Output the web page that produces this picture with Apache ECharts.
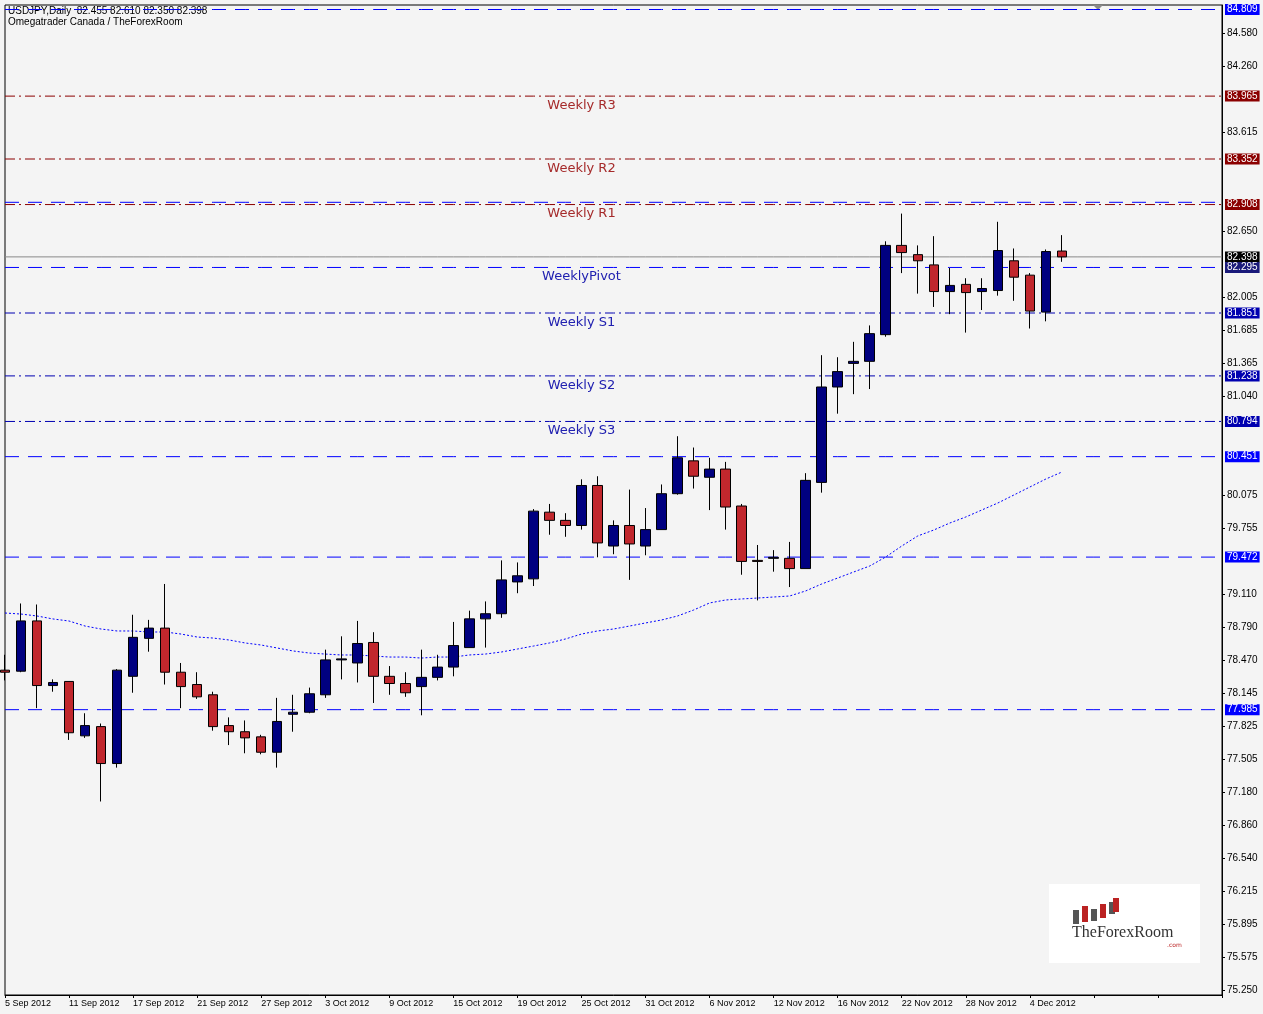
<!DOCTYPE html>
<html><head><meta charset="utf-8">
<script src="https://cdn.jsdelivr.net/npm/echarts@6/dist/echarts.min.js"></script>
<style>html,body{margin:0;padding:0;background:#fff}#c{width:1263px;height:1014px}</style>
</head><body><div id="c"></div>
<script>
const dates = ['5 Sep 2012','6 Sep 2012','7 Sep 2012','10 Sep 2012','11 Sep 2012','12 Sep 2012','13 Sep 2012','14 Sep 2012','17 Sep 2012','18 Sep 2012','19 Sep 2012','20 Sep 2012','21 Sep 2012','24 Sep 2012','25 Sep 2012','26 Sep 2012','27 Sep 2012','28 Sep 2012','1 Oct 2012','2 Oct 2012','3 Oct 2012','4 Oct 2012','5 Oct 2012','8 Oct 2012','9 Oct 2012','10 Oct 2012','11 Oct 2012','12 Oct 2012','15 Oct 2012','16 Oct 2012','17 Oct 2012','18 Oct 2012','19 Oct 2012','22 Oct 2012','23 Oct 2012','24 Oct 2012','25 Oct 2012','26 Oct 2012','29 Oct 2012','30 Oct 2012','31 Oct 2012','1 Nov 2012','2 Nov 2012','5 Nov 2012','6 Nov 2012','7 Nov 2012','8 Nov 2012','9 Nov 2012','12 Nov 2012','13 Nov 2012','14 Nov 2012','15 Nov 2012','16 Nov 2012','19 Nov 2012','20 Nov 2012','21 Nov 2012','22 Nov 2012','23 Nov 2012','26 Nov 2012','27 Nov 2012','28 Nov 2012','29 Nov 2012','30 Nov 2012','3 Dec 2012','4 Dec 2012','5 Dec 2012','6 Dec 2012'];
const padCount = 10;
// [open, close, low, high]
const ohlc = [
[78.37,78.35,78.27,78.52],[78.36,78.85,78.35,79.02],[78.85,78.22,78.00,79.01],[78.22,78.25,78.16,78.28],
[78.26,77.76,77.69,78.26],[77.73,77.83,77.71,77.95],[77.82,77.46,77.09,77.85],[77.46,78.37,77.42,78.38],
[78.31,78.69,78.15,78.91],[78.68,78.78,78.55,78.86],[78.78,78.35,78.23,79.21],[78.35,78.21,78.00,78.44],
[78.23,78.11,78.09,78.35],[78.13,77.82,77.78,78.16],[77.83,77.77,77.64,77.91],[77.77,77.71,77.56,77.88],
[77.72,77.57,77.55,77.74],[77.57,77.87,77.42,78.10],[77.94,77.96,77.77,78.13],[77.96,78.14,77.95,78.20],
[78.13,78.47,78.10,78.57],[78.47,78.48,78.28,78.70],[78.44,78.63,78.25,78.85],[78.64,78.31,78.05,78.74],
[78.31,78.24,78.13,78.41],[78.24,78.15,78.11,78.35],[78.21,78.30,77.93,78.57],[78.30,78.40,78.27,78.52],
[78.40,78.61,78.31,78.84],[78.59,78.87,78.59,78.95],[78.87,78.92,78.59,79.04],[78.92,79.25,78.88,79.44],
[79.23,79.29,79.12,79.42],[79.26,79.92,79.19,79.94],[79.91,79.83,79.69,79.99],[79.83,79.78,79.67,79.90],
[79.78,80.17,79.74,80.23],[80.17,79.61,79.47,80.26],[79.58,79.78,79.50,79.83],[79.78,79.60,79.25,80.13],
[79.58,79.74,79.49,79.95],[79.74,80.09,79.74,80.18],[80.09,80.44,80.08,80.65],[80.41,80.26,80.14,80.54],
[80.25,80.33,79.93,80.44],[80.33,79.96,79.74,80.40],[79.97,79.43,79.30,79.99],[79.44,79.43,79.05,79.59],
[79.46,79.47,79.33,79.54],[79.46,79.36,79.18,79.62],[79.36,80.22,79.36,80.29],[80.20,81.13,80.10,81.44],
[81.13,81.28,80.87,81.42],[81.36,81.38,81.06,81.57],[81.38,81.65,81.11,81.73],[81.64,82.51,81.62,82.55],
[82.51,82.44,82.24,82.82],[82.42,82.36,82.04,82.51],[82.32,82.06,81.91,82.60],[82.06,82.12,81.84,82.29],
[82.13,82.05,81.66,82.19],[82.06,82.09,81.88,82.19],[82.07,82.46,82.02,82.74],[82.36,82.20,81.97,82.48],
[82.22,81.87,81.70,82.24],[81.86,82.45,81.77,82.47],[82.455,82.398,82.35,82.61]];
const maValues = [78.927,78.917,78.898,78.869,78.849,78.800,78.771,78.752,78.752,78.742,78.742,78.722,78.693,78.683,78.664,78.635,78.615,78.586,78.557,78.537,78.527,78.518,78.518,78.508,78.498,78.498,78.488,78.498,78.498,78.518,78.527,78.547,78.576,78.605,78.635,78.674,78.722,78.752,78.771,78.800,78.830,78.859,78.898,78.956,79.025,79.054,79.064,79.073,79.083,79.093,79.142,79.210,79.268,79.327,79.385,79.473,79.580,79.678,79.736,79.804,79.863,79.931,79.999,80.077,80.155,80.233,80.301];
const tickValues = [84.580,84.260,83.615,82.650,82.005,81.685,81.365,81.040,80.075,79.755,79.110,78.790,78.470,78.145,77.825,77.505,77.180,76.860,76.540,76.215,75.895,75.575,75.250];
// [value, name, kind]
const levels = [
 [84.809,'', 'blueDash'],
 [83.965,'Weekly R3','red'],
 [83.352,'Weekly R2','red'],
 [82.930,'', 'blueDashNoBox'],
 [82.908,'Weekly R1','red'],
 [82.398,'', 'last'],
 [82.295,'WeeklyPivot','pivot'],
 [81.851,'Weekly S1','sup'],
 [81.238,'Weekly S2','sup'],
 [80.794,'Weekly S3','sup'],
 [80.451,'', 'blueDash'],
 [79.472,'', 'blueDash'],
 [77.985,'', 'blueDash']
];
const labelIndex = 36;

const cats = dates.concat(new Array(padCount).fill(''));
const styles = {
 blueDash:{color:'#0000ff',type:[14,9],box:'#0000ff'},
 blueDashNoBox:{color:'#0000ff',type:[14,9],box:null},
 red:{color:'#8b0000',type:[10,4,2,4],box:'#8b0000',text:'#a52a2a'},
 last:{color:'#888888',type:'solid',box:'#000000'},
 pivot:{color:'#0000ff',type:[14,9],box:'#1a1a7a',text:'#2020b0'},
 sup:{color:'#0000b0',type:[10,4,2,4],box:'#0000b0',text:'#2020b0'}
};
const levelSeries = levels.map(([v,name,kind])=>{
  const s = styles[kind];
  return {type:'line',data:cats.map(()=>v),symbol:'none',silent:true,clip:false,z:kind==='blueDashNoBox'?1:2,
    lineStyle:{color:s.color,type:s.type,width:1},
    endLabel:{show:!!s.box,formatter:v.toFixed(3),color:'#fff',backgroundColor:s.box||'transparent',padding:[1,2,0,2],fontSize:10,fontFamily:'Liberation Sans',distance:3}};
});
const nameData = levels.filter(l=>l[1]).map(([v,name,kind])=>({
  value:[labelIndex, v],
  label:{show:true,position:'bottom',distance:3,formatter:name,color:styles[kind].text,opacity:1,fontSize:13,fontFamily:'DejaVu Sans'}
}));

const chart = echarts.init(document.getElementById('c'));
chart.setOption({
  animation:false,
  backgroundColor:'#f4f4f4',
  grid:{left:5,right:41,top:5,bottom:19,show:true,borderColor:'#000',borderWidth:1,backgroundColor:'#f4f4f4'},
  xAxis:{type:'category',data:cats,boundaryGap:false,
    axisLine:{show:true,lineStyle:{color:'#000'}},
    axisTick:{show:true,interval:3,length:3,lineStyle:{color:'#000'}},
    axisLabel:{interval:3,align:'left',margin:4,fontSize:9,fontFamily:'Liberation Sans',color:'#000'},
    splitLine:{show:false}},
  yAxis:{type:'value',position:'right',min:75.204,max:84.853,scale:true,
    axisLine:{show:true,lineStyle:{color:'#000'}},
    axisTick:{show:true,length:3,customValues:tickValues,lineStyle:{color:'#000'}},
    axisLabel:{customValues:tickValues,formatter:v=>v.toFixed(3),fontSize:10,fontFamily:'Liberation Sans',color:'#000',margin:5},
    splitLine:{show:false}},
  series:levelSeries.concat([
    {type:'scatter',data:nameData,symbolSize:0,silent:true,z:5,itemStyle:{opacity:1}},
    {type:'line',data:maValues,symbol:'none',z:3,lineStyle:{color:'#0000ff',width:1,type:[2,2]}},
    {type:'candlestick',data:ohlc,barWidth:10,clip:true,z:4,
      itemStyle:{color:'#000080',color0:'#c1272d',borderColor:'#000',borderColor0:'#000',borderWidth:1}}
  ]),
  graphic:[
    {type:'text',left:8,top:6,style:{text:'USDJPY,Daily  82.455 82.610 82.350 82.398',font:'10px "Liberation Sans"',fill:'#000'}},
    {type:'text',left:8,top:17,style:{text:'Omegatrader Canada / TheForexRoom',font:'10px "Liberation Sans"',fill:'#000'}},
    {type:'polygon',shape:{points:[[1093,5],[1103,5],[1098,10]]},style:{fill:'#888'}},
    {type:'rect',shape:{x:1049,y:884,width:151,height:79},style:{fill:'#fff'}},
    {type:'rect',shape:{x:1073,y:910,width:6,height:14},style:{fill:'#555'}},
    {type:'rect',shape:{x:1082,y:906,width:6,height:16},style:{fill:'#b22'}},
    {type:'rect',shape:{x:1091,y:909,width:6,height:12},style:{fill:'#555'}},
    {type:'rect',shape:{x:1100,y:904,width:6,height:14},style:{fill:'#b22'}},
    {type:'rect',shape:{x:1109,y:902,width:6,height:12},style:{fill:'#555'}},
    {type:'rect',shape:{x:1113,y:898,width:6,height:14},style:{fill:'#b22'}},
    {type:'text',left:1072,top:925,style:{text:'TheForexRoom',font:'16px "Liberation Serif"',fill:'#333'}},
    {type:'text',left:1167,top:942,style:{text:'.com',font:'6px "DejaVu Sans"',fill:'#b22'}}
  ]
});
</script></body></html>
